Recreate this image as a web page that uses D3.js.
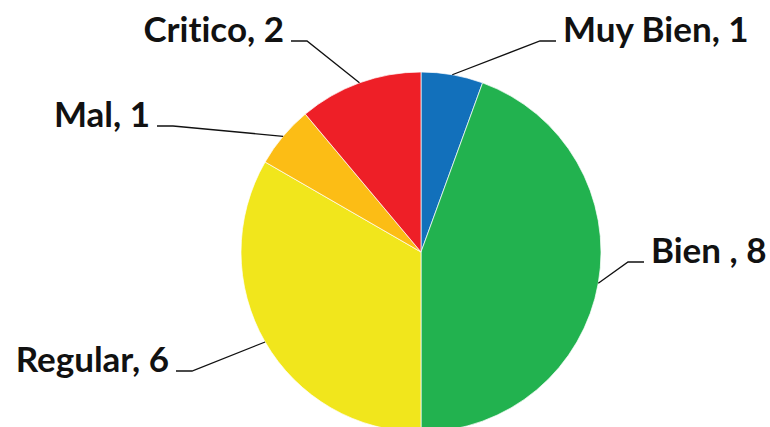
<!DOCTYPE html>
<html>
<head>
<meta charset="utf-8">
<script src="https://cdn.jsdelivr.net/npm/d3@7"></script>
<style>
  body { margin: 0; background: #fff; }
  text { font-family: Lato, "Open Sans", sans-serif; font-weight: bold; fill: #111; font-variant-ligatures: none; }
</style>
</head>
<body>
<div class="chart"></div>
<script>
var categories = ["Muy Bien", "Bien ", "Regular", "Mal", "Critico"];
var values = [1, 8, 6, 1, 2];
var colors = ["#1270bb", "#22b24f", "#f1e61c", "#fcbd15", "#ee1f27"];

// where each leader line bends, relative to the pie centre (Excel placed these by hand)
var elbows = [[119, -211], [207, 10], [-229, 119], [-248, -126], [-114, -211]];

var width = 770, height = 427;
var cx = 421, cy = 252, radius = 180;

var svg = d3.select(".chart").append("svg")
    .attr("width", width)
    .attr("height", height);

var data = categories.map((c, i) => ({name: c, value: values[i], color: colors[i], elbow: elbows[i]}));

var pie = d3.pie().sort(null).value(d => d.value);
var arc = d3.arc().innerRadius(0).outerRadius(radius);
var arcs = pie(data);

var g = svg.append("g")
    .attr("transform", "translate(" + cx + "," + cy + ")");

g.selectAll("path")
    .data(arcs)
    .join("path")
    .attr("d", arc)
    .attr("fill", d => d.data.color)
    .attr("stroke", "#fff")
    .attr("stroke-width", 0.7);

// leader lines: edge of slice -> elbow -> short horizontal tail
g.selectAll("polyline")
    .data(arcs)
    .join("polyline")
    .attr("fill", "none")
    .attr("stroke", "#111")
    .attr("stroke-width", 1.3)
    .attr("points", d => {
        var a = (d.startAngle + d.endAngle) / 2;
        var p0 = [radius * Math.sin(a), -radius * Math.cos(a)];
        var e = d.data.elbow;
        var right = e[0] > 0;
        var tail = [e[0] + (right ? 16 : -16), e[1]];
        return [p0, e, tail].map(p => p.join(",")).join(" ");
    });

g.selectAll("text")
    .data(arcs)
    .join("text")
    .attr("x", d => d.data.elbow[0] + (d.data.elbow[0] > 0 ? 23 : -23))
    .attr("y", d => d.data.elbow[1] + 1)
    .attr("text-anchor", d => d.data.elbow[0] > 0 ? "start" : "end")
    .attr("font-size", 35)
    .text(d => d.data.name + ", " + d.data.value);
</script>
</body>
</html>
